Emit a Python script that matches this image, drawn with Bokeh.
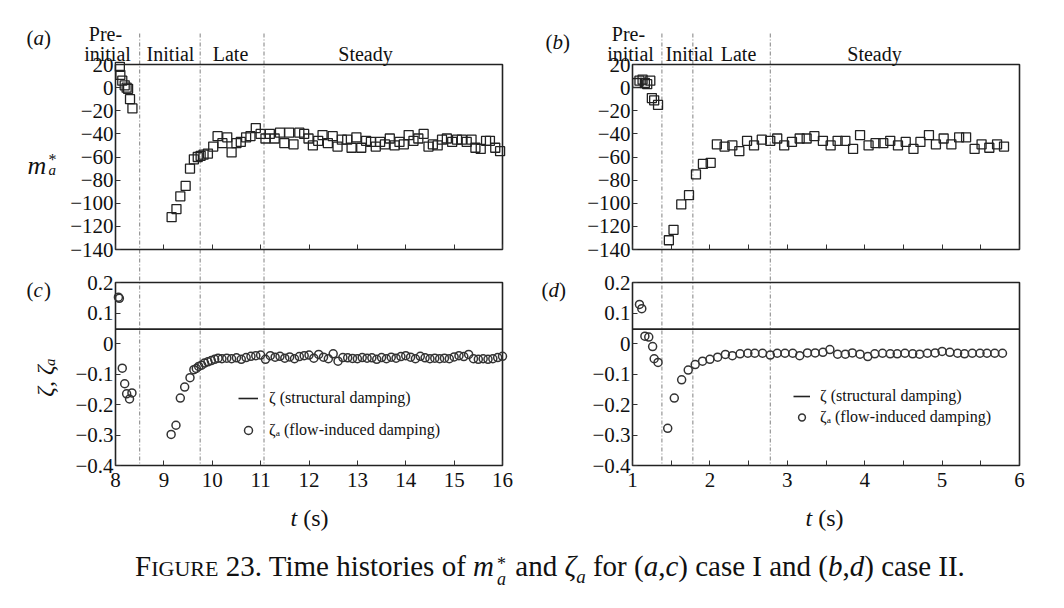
import math
from bokeh.plotting import figure
from bokeh.models import (Range1d, FixedTicker, CustomJSTickFormatter, Label, LinearAxis,
                          Legend, LegendItem, Div)
from bokeh.layouts import column, row
from bokeh.embed import file_html
from bokeh.resources import INLINE

# ---------------- data ----------------
# case I, added mass m_a*
t_a = [8.09, 8.10, 8.14, 8.19, 8.23, 8.26, 8.30, 8.35,
       9.16, 9.26, 9.34, 9.45, 9.54, 9.62, 9.70, 9.76, 9.82, 9.91,
       10.02, 10.11, 10.21, 10.31, 10.40, 10.50, 10.59, 10.70, 10.79, 10.90,
       11.00, 11.10, 11.19, 11.29, 11.40, 11.49, 11.59, 11.68, 11.80, 11.90,
       11.99, 12.08, 12.19, 12.28, 12.39, 12.49, 12.59, 12.68, 12.79, 12.88,
       12.98, 13.08, 13.18, 13.28, 13.38, 13.47, 13.57, 13.67, 13.77, 13.87,
       13.96, 14.06, 14.16, 14.26, 14.37, 14.47, 14.56, 14.66, 14.75, 14.85,
       14.96, 15.06, 15.16, 15.26, 15.36, 15.44, 15.55, 15.66, 15.74, 15.85,
       15.95]
m_a = [18, 11, 6, 2, 0, -1, -10, -18,
       -112, -105, -94, -85, -70, -62, -60, -59, -58, -57,
       -51, -42, -48, -43, -56, -48, -47, -43, -42, -35,
       -40, -44, -40, -44, -39, -48, -39, -49, -39, -40,
       -44, -50, -46, -41, -48, -42, -51, -45, -45, -52,
       -43, -52, -46, -47, -51, -47, -49, -44, -50, -47,
       -49, -41, -46, -44, -40, -51, -49, -50, -45, -44,
       -47, -45, -45, -47, -45, -52, -53, -46, -46, -52,
       -55]

# case II, added mass m_a*
t_b = [1.06, 1.09, 1.13, 1.16, 1.19, 1.23, 1.25, 1.28, 1.33,
       1.47, 1.53, 1.63, 1.73, 1.82, 1.91, 2.01,
       2.09, 2.19, 2.29, 2.38, 2.48, 2.57, 2.67, 2.78, 2.87, 2.96,
       3.06, 3.16, 3.25, 3.35, 3.46, 3.56, 3.65, 3.75, 3.85, 3.94,
       4.05, 4.14, 4.24, 4.33, 4.43, 4.53, 4.63, 4.72, 4.83, 4.92,
       5.02, 5.12, 5.22, 5.31, 5.42, 5.51, 5.61, 5.71, 5.80]
m_b = [4, 6, 7, 4, 3, 6, -9, -11, -15,
       -132, -123, -101, -93, -75, -66, -65,
       -49, -51, -50, -55, -46, -50, -45, -46, -44, -50,
       -47, -44, -44, -42, -46, -50, -46, -46, -53, -41,
       -50, -48, -48, -46, -50, -47, -53, -47, -41, -49,
       -44, -49, -43, -43, -53, -49, -52, -49, -51]

# case I, flow-induced damping zeta_a
t_c = [8.06, 8.08, 8.14, 8.19, 8.23, 8.29, 8.34,
       9.15, 9.25, 9.34, 9.43, 9.54, 9.62, 9.67, 9.72, 9.78, 9.84, 9.91, 9.98,
       10.05, 10.12,
       10.20, 10.30, 10.40, 10.50, 10.60, 10.70, 10.80, 10.90,
       11.00, 11.10, 11.20, 11.30, 11.40, 11.50, 11.60, 11.70, 11.80, 11.90,
       12.00, 12.10, 12.20, 12.30, 12.40, 12.50, 12.60, 12.70, 12.80, 12.90,
       13.00, 13.10, 13.20, 13.30, 13.40, 13.50, 13.60, 13.70, 13.80, 13.90,
       14.00, 14.10, 14.20, 14.30, 14.40, 14.50, 14.60, 14.70, 14.80, 14.90,
       15.00, 15.10, 15.20, 15.30, 15.40, 15.50, 15.60, 15.70, 15.80, 15.90,
       16.00]
z_c = [0.152, 0.148, -0.081, -0.132, -0.165, -0.182, -0.162,
       -0.298, -0.268, -0.179, -0.143, -0.112, -0.086, -0.082, -0.075, -0.071,
       -0.064, -0.060, -0.056,
       -0.052, -0.048,
       -0.050, -0.048, -0.050, -0.047, -0.052, -0.046, -0.042, -0.040,
       -0.038, -0.052, -0.040, -0.045, -0.042, -0.048, -0.044, -0.050, -0.043, -0.040,
       -0.038, -0.048, -0.036, -0.045, -0.050, -0.034, -0.058, -0.046, -0.047, -0.049,
       -0.050, -0.046, -0.048, -0.047, -0.052, -0.046, -0.050, -0.045, -0.048, -0.043,
       -0.040, -0.045, -0.050, -0.042, -0.047, -0.050, -0.048, -0.050, -0.048, -0.050,
       -0.044, -0.040, -0.043, -0.036, -0.050, -0.052, -0.050, -0.052, -0.050, -0.046,
       -0.042]

# case II, flow-induced damping zeta_a
t_d = [1.09, 1.12, 1.16, 1.21, 1.26, 1.28, 1.33,
       1.455, 1.54, 1.635, 1.72, 1.81, 1.905, 2.00,
       2.10, 2.20, 2.29, 2.39, 2.49, 2.58, 2.68, 2.78, 2.87, 2.97,
       3.07, 3.16, 3.26, 3.36, 3.46, 3.55, 3.65, 3.75, 3.84, 3.94,
       4.04, 4.13, 4.23, 4.33, 4.42, 4.52, 4.62, 4.71, 4.81, 4.91,
       5.00, 5.10, 5.20, 5.29, 5.39, 5.49, 5.58, 5.68, 5.78]
z_d = [0.128, 0.114, 0.024, 0.021, -0.010, -0.050, -0.062,
       -0.278, -0.179, -0.119, -0.087, -0.069, -0.058, -0.052,
       -0.045, -0.036, -0.040, -0.034, -0.032, -0.032, -0.032, -0.038, -0.032, -0.032,
       -0.032, -0.040, -0.031, -0.031, -0.029, -0.020, -0.035, -0.035, -0.031, -0.035,
       -0.043, -0.034, -0.032, -0.034, -0.034, -0.032, -0.034, -0.035, -0.032, -0.031,
       -0.026, -0.029, -0.032, -0.034, -0.032, -0.032, -0.032, -0.032, -0.032]

zeta_struct = 0.047                       # structural damping
phase_I = [8.5, 9.75, 11.07]              # phase boundaries, case I
phase_II = [1.38, 1.78, 2.78]             # phase boundaries, case II
phase_names = ["Pre-", "initial", "Initial", "Late", "Steady"]
x_range_I = (8, 16)
x_range_II = (1, 6)
m_range = (-140, 20)
z_range = (-0.4, 0.2)
xticks_I = [8, 9, 10, 11, 12, 13, 14, 15, 16]
xticks_II = [1, 1.5, 2, 2.5, 3, 3.5, 4, 4.5, 5, 5.5, 6]
m_ticks = [-140, -120, -100, -80, -60, -40, -20, 0, 20]
z_ticks = [-0.4, -0.3, -0.2, -0.1, 0, 0.1, 0.2]

# ---------------- geometry (page pixels) ----------------
SERIF = "Liberation Serif"
INK = "#111111"
BOX = "#222222"
FW = 387                  # panel box width
M_TOP, M_BOT = 64, 249    # upper panel box (page y)
Z_TOP, Z_BOT = 282, 465   # lower panel box (page y)
H = 535                   # figure height
DASH = "4 2 1 2"
DASH_COLOR = "#808080"
LINE_TOP = 33             # where the phase lines start


def yT(py):
    return m_range[1] - (py - M_TOP) * (m_range[1] - m_range[0]) / (M_BOT - M_TOP)


def yB(py):
    return z_range[1] - (py - Z_TOP) * (z_range[1] - z_range[0]) / (Z_BOT - Z_TOP)


m_fmt = CustomJSTickFormatter(code="""
return (tick < 0 ? '\\u2212' : '') + Math.abs(tick).toFixed(0);
""")
z_fmt = CustomJSTickFormatter(code="""
if (Math.abs(tick) < 1e-9) return '0';
return (tick < 0 ? '\\u2212' : '') + Math.abs(tick).toFixed(1);
""")
int_fmt = CustomJSTickFormatter(code="""
return Math.abs(tick - Math.round(tick)) < 1e-9 ? Math.round(tick).toString() : '';
""")
none_fmt = CustomJSTickFormatter(code="return '';")


def style_axis(ax, show_labels=True, standoff=2):
    ax.axis_line_color = None
    ax.major_tick_in = 5
    ax.major_tick_out = 0
    ax.major_tick_line_color = "#333333"
    ax.major_tick_line_width = 1
    ax.minor_tick_line_color = None
    ax.major_label_text_font = SERIF
    ax.major_label_text_font_size = "21px" if show_labels else "0px"
    ax.major_label_text_color = INK
    ax.major_label_standoff = standoff


def lab(p, x, y, text, size, style="normal", align="left", baseline="alphabetic", angle=0.0):
    p.add_layout(Label(x=x, y=y, text=text, text_font=SERIF, text_font_size=f"{size}px",
                       text_font_style=style, text_align=align, text_baseline=baseline,
                       text_color=INK, angle=angle))


def build(case):
    if case == "I":
        xr, xt, phases = x_range_I, xticks_I, phase_I
        x0, w, fl = 0, 520, 115
        t_m, v_m, t_z, v_z = t_a, m_a, t_c, z_c
        tags = ("a", "c")
        tag_pos = [(26, 37), (26, 289)]
        names_x = [105, 107, 170, 230, 365]
        leg = dict(loc=(238, 439.7), sp=12, gw=20, gh=20, so=11)
        t_label_x = 290
    else:
        xr, xt, phases = x_range_II, xticks_II, phase_II
        x0, w, fl = 520, 536, 632
        t_m, v_m, t_z, v_z = t_b, m_b, t_d, z_d
        tags = ("b", "d")
        tag_pos = [(545, 41), (541, 289)]
        names_x = [628, 630, 689, 738, 874]
        leg = dict(loc=(793, 426), sp=3, gw=17, gh=18, so=10)
        t_label_x = 805

    def fx(px):
        return xr[0] + (px - fl) * (xr[1] - xr[0]) / FW

    p = figure(width=w, height=H, x_range=Range1d(fx(x0), fx(x0 + w)),
               y_range=Range1d(H, 0), x_axis_type=None, y_axis_type=None,
               output_backend="svg", toolbar_location=None,
               min_border=0, min_border_left=0, min_border_right=0,
               min_border_top=0, min_border_bottom=0)
    p.extra_y_ranges = {"m": Range1d(yT(H), yT(0)), "z": Range1d(yB(H), yB(0))}
    p.outline_line_color = None
    p.background_fill_color = "white"
    p.border_fill_color = "white"

    # phase boundaries (dash-dot), running through both panels
    p.segment(x0=phases, y0=[LINE_TOP] * len(phases), x1=phases, y1=[Z_BOT] * len(phases),
              line_color=DASH_COLOR, line_width=1, line_dash=DASH)

    # panel boxes
    p.quad(left=[xr[0]], right=[xr[1]], bottom=[m_range[0]], top=[m_range[1]],
           y_range_name="m", fill_color=None, line_color=BOX, line_width=1.6)
    p.quad(left=[xr[0]], right=[xr[1]], bottom=[z_range[0]], top=[z_range[1]],
           y_range_name="z", fill_color=None, line_color=BOX, line_width=1.6)

    # axes drawn at the panel edges
    ay_m = LinearAxis(y_range_name="m", fixed_location=xr[0],
                      ticker=FixedTicker(ticks=m_ticks, minor_ticks=[]), formatter=m_fmt)
    style_axis(ay_m)
    p.add_layout(ay_m, "left")
    ay_z = LinearAxis(y_range_name="z", fixed_location=xr[0],
                      ticker=FixedTicker(ticks=z_ticks, minor_ticks=[]), formatter=z_fmt)
    style_axis(ay_z)
    p.add_layout(ay_z, "left")
    ax_m = LinearAxis(y_range_name="m", fixed_location=m_range[0],
                      ticker=FixedTicker(ticks=xt, minor_ticks=[]), formatter=none_fmt)
    style_axis(ax_m, show_labels=False, standoff=0)
    p.add_layout(ax_m, "below")
    ax_z = LinearAxis(y_range_name="z", fixed_location=z_range[0],
                      ticker=FixedTicker(ticks=xt, minor_ticks=[]), formatter=int_fmt)
    style_axis(ax_z, standoff=7)
    p.add_layout(ax_z, "below")

    # data
    p.scatter(t_m, v_m, y_range_name="m", marker="square", size=9, fill_color=None,
              line_color="#222222", line_width=1.3)
    lz = p.line(list(xr), [zeta_struct, zeta_struct], y_range_name="z",
                line_color=BOX, line_width=1.6)
    cz = p.scatter(t_z, v_z, y_range_name="z", marker="circle", size=8, fill_color=None,
                   line_color="#333333", line_width=1.5)

    legend = Legend(items=[LegendItem(label="ζ (structural damping)", renderers=[lz]),
                           LegendItem(label="ζₐ (flow-induced damping)", renderers=[cz])],
                    location=(leg["loc"][0] - x0, H - leg["loc"][1]), padding=0, margin=0,
                    spacing=leg["sp"], glyph_width=leg["gw"], glyph_height=leg["gh"],
                    label_height=leg["gh"], label_standoff=leg["so"],
                    label_text_font=SERIF, label_text_font_size="16px",
                    label_text_color=INK, background_fill_alpha=0, border_line_color=None)
    p.add_layout(legend)

    # panel tags
    for letter, (px, base) in zip(tags, tag_pos):
        lab(p, fx(px), base, "(", 21)
        lab(p, fx(px + 7), base, letter, 21, style="italic")
        lab(p, fx(px + 17.5), base, ")", 21)

    # phase names
    for name, cx, base in zip(phase_names, names_x, [33, 53, 53, 53, 53]):
        lab(p, fx(cx), base, name, 20, align="center")

    # axis titles
    lab(p, fx(t_label_x), 517, "t", 24, style="italic")
    lab(p, fx(t_label_x + 12.7), 517, "(s)", 24)
    if case == "I":
        lab(p, fx(27), 165, "m", 26, style="italic")
        lab(p, fx(48), 159, "*", 16)
        lab(p, fx(48), 169, "a", 15, style="italic")
        lab(p, fx(44), 377, "ζ, ζₐ", 24, style="italic", align="center",
            baseline="middle", angle=math.pi / 2)
    return p


figL = build("I")
figR = build("II")

# ---------------- caption ----------------
caption_html = (
    "<div style=\"box-sizing:border-box; font-family:'Liberation Serif',serif; font-size:29px;"
    " color:#111; text-align:center; padding-left:34px; padding-top:9px; width:1056px;"
    " line-height:34px; white-space:nowrap;\">"
    "<span style='font-size:29px'>F</span><span style='font-size:22px'>IGURE</span> 23. "
    "Time histories of <i>m</i>"
    "<span style='display:inline-block; vertical-align:-9px; font-size:18px; line-height:15px;"
    " text-align:left; margin-left:3px; margin-right:2px'>"
    "<span style='display:block; height:15px'>*</span>"
    "<i style='display:block; height:15px'>a</i></span>"
    " and <i>ζ</i><sub style='font-size:19px; line-height:0'><i>a</i></sub> for "
    "(<i>a</i>,<i>c</i>) case I and (<i>b</i>,<i>d</i>) case II.</div>"
)
cap = Div(text=caption_html, width=1056, height=60)

layout = column(row(figL, figR), cap)
open("out.html", "w").write(file_html(layout, INLINE))
